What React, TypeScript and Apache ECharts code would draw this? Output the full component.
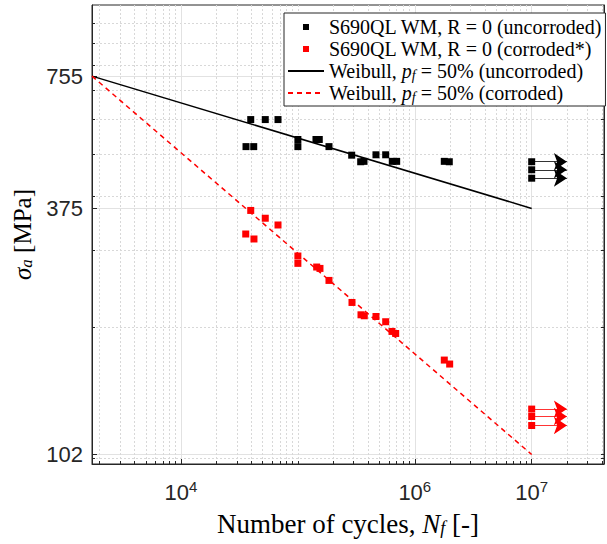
import React, { useEffect, useRef } from 'react';
import * as echarts from 'echarts';

// ---- axis limits and ticks ----
const X_MIN = 1733;
const X_MAX = 4.155e7;
const Y_MIN = 97;
const Y_MAX = 1100;
const X_TICKS = [1e4, 1e6, 1e7];
const Y_TICKS = [102, 375, 755];

// ---- S690QL WM, R = 0 (uncorroded) ----
const UNC_N = [39500, 52600, 67600, 36000, 41900, 100000, 100000, 142800, 152400, 184500, 288600, 344500, 367700, 465600, 563700, 642000, 700000, 1788000, 1973000, 1e7, 1e7, 1e7];
const UNC_S = [600, 600, 600, 520, 520, 540, 520, 540, 540, 520, 497, 480, 481, 498, 498, 481, 481, 481, 480, 480, 460, 440];

// ---- S690QL WM, R = 0 (corroded*) ----
const COR_N = [39500, 52600, 67600, 35800, 42100, 100000, 100000, 144800, 154500, 184500, 290300, 346600, 369800, 465600, 563700, 638400, 686500, 1788000, 1988000, 1e7, 1e7, 1e7];
const COR_S = [371, 356, 343.5, 327.5, 319, 291.5, 280.4, 275, 273, 256.2, 228, 213.6, 212.5, 211.7, 205.9, 195.6, 193.5, 168.1, 164.6, 129.7, 124.7, 118.9];

// ---- run-outs (arrows) ----
const RUNOUT_N = 1e7;
const RUNOUT_ARROW_END_N = 2e7;
const RUNOUT_UNC_S = [480, 460, 440];
const RUNOUT_COR_S = [129.7, 124.7, 118.9];

// ---- Weibull, p_f = 50% ----
const WEIBULL_N = [1733, 1e7];
const WEIBULL_UNC_S = [755, 375];
const WEIBULL_COR_S = [755, 102];

const NAMES = [
  'S690QL WM, R = 0 (uncorroded)',
  'S690QL WM, R = 0 (corroded*)',
  'Weibull, p_f = 50% (uncorroded)',
  'Weibull, p_f = 50% (corroded)',
];

const lg = (v: number) => Math.log10(v);

function minorList(lo: number, hi: number, exclude: number[]) {
  const out: number[] = [];
  for (let k = Math.floor(lg(lo)); k <= Math.ceil(lg(hi)); k++) {
    for (let m = 1; m <= 9; m++) {
      const v = m * Math.pow(10, k);
      if (v >= lo && v <= hi && !exclude.some((e) => Math.abs(e - v) / v < 1e-6)) out.push(lg(v));
    }
  }
  return out;
}

const SERIF = 'Liberation Serif';
const SANS = 'Liberation Sans';
const AXIS_COLOR = '#262626';
const SQ_ICON = 'path://M0,3L0.01,3M15,0L21,0L21,6L15,6ZM36,3L36.01,3';

function legendFormatter(name: string) {
  const parts = name.split('p_f');
  if (parts.length === 1) return `{t|${name}}`;
  return `{t|${parts[0]}}{i|p}{sub|f}{t|${parts[1]}}`;
}

function buildOption() {
  const xMin = lg(X_MIN), xMax = lg(X_MAX), yMin = lg(Y_MIN), yMax = lg(Y_MAX);
  const xMinor = minorList(X_MIN, X_MAX, X_TICKS);
  const yMinor = minorList(Y_MIN, Y_MAX, []);
  const yAll = yMinor.concat(Y_TICKS.map(lg));
  const lineStyle = { color: AXIS_COLOR, width: 1 };
  const majorSplit = { show: true, lineStyle: { color: '#e2e2e2', width: 1, type: 'solid' } };
  const minorSplit = { show: true, lineStyle: { color: '#d8d8d8', width: 1, type: [2, 2] } };

  const xBase = { type: 'value', min: xMin, max: xMax };
  const yBase = { type: 'value', min: yMin, max: yMax };

  const serifRich = (size: number, subSize: number) => ({
    n: { fontFamily: SERIF, fontSize: size, color: '#000' },
    i: { fontFamily: SERIF, fontSize: size, fontStyle: 'italic', color: '#000' },
    sub: { fontFamily: SERIF, fontSize: subSize, fontStyle: 'italic', color: '#000', verticalAlign: 'bottom', lineHeight: 12 },
  });

  const LFS = 20;

  return {
    animation: false,
    backgroundColor: '#fff',
    grid: {
      left: 92, right: 3, top: 5, bottom: 80, containLabel: false, outerBoundsMode: 'none',
      show: true, borderColor: AXIS_COLOR, borderWidth: 1, backgroundColor: 'transparent',
    },
    legend: {
      left: 284,
      top: 13,
      orient: 'vertical',
      itemWidth: 36,
      itemHeight: 8,
      itemGap: 0,
      padding: [3, 3, 2, 3],
      borderColor: AXIS_COLOR,
      borderWidth: 1,
      borderRadius: 0,
      backgroundColor: '#fff',
      selectedMode: false,
      itemStyle: { borderWidth: 0 },
      textStyle: {
        fontFamily: SERIF,
        fontSize: LFS,
        lineHeight: 22,
        color: '#000',
        rich: {
          t: { fontFamily: SERIF, fontSize: LFS, lineHeight: 22, color: '#000' },
          i: { fontFamily: SERIF, fontSize: LFS, fontStyle: 'italic', lineHeight: 22, color: '#000' },
          sub: { fontFamily: SERIF, fontSize: 14, fontStyle: 'italic', color: '#000', verticalAlign: 'bottom', lineHeight: 10 },
        },
      },
      formatter: legendFormatter,
      data: [
        { name: NAMES[0], icon: SQ_ICON },
        { name: NAMES[1], icon: SQ_ICON },
        { name: NAMES[2], itemStyle: { opacity: 0, color: 'transparent' } },
        { name: NAMES[3], itemStyle: { opacity: 0, color: 'transparent' } },
      ],
    },
    xAxis: [
      {
        ...xBase,
        position: 'bottom',
        axisLine: { show: true, onZero: false, lineStyle },
        axisTick: { show: true, inside: true, length: 5, customValues: X_TICKS.map(lg), lineStyle },
        axisLabel: {
          show: true,
          customValues: X_TICKS.map(lg),
          margin: 15,
          hideOverlap: false,
          formatter: (v: number) => `{b|10}{s|${Math.round(v)}}`,
          rich: {
            b: { fontFamily: SANS, fontSize: 22, color: AXIS_COLOR, lineHeight: 26 },
            s: { fontFamily: SANS, fontSize: 15, color: AXIS_COLOR, lineHeight: 14, verticalAlign: 'top' },
          },
        },
        splitLine: majorSplit,
        name: '{n|Number of cycles, }{i|N}{sub|f}{n| [-]}',
        nameLocation: 'middle',
        nameGap: 46,
        nameTextStyle: { fontFamily: SERIF, fontSize: 27, color: '#000', rich: serifRich(27, 18) },
      },
      {
        ...xBase,
        position: 'bottom',
        axisLine: { show: false },
        axisTick: { show: true, inside: true, length: 3, customValues: xMinor, lineStyle },
        axisLabel: { show: false },
        splitLine: minorSplit,
      },
    ],
    yAxis: [
      {
        ...yBase,
        position: 'left',
        axisLine: { show: true, onZero: false, lineStyle },
        axisTick: { show: true, inside: true, length: 5, customValues: Y_TICKS.map(lg), lineStyle },
        axisLabel: {
          show: true,
          customValues: Y_TICKS.map(lg),
          margin: 9,
          hideOverlap: false,
          fontFamily: SANS,
          fontSize: 22,
          color: AXIS_COLOR,
          formatter: (v: number) => String(Math.round(Math.pow(10, v))),
        },
        splitLine: majorSplit,
        name: '{i|σ}{sub|a}{n| [MPa]}',
        nameLocation: 'middle',
        nameRotate: 90,
        nameGap: 53,
        nameTextStyle: { fontFamily: SERIF, fontSize: 25, color: '#000', rich: serifRich(25, 17) },
      },
      {
        ...yBase,
        position: 'left',
        axisLine: { show: false },
        axisTick: { show: true, inside: true, length: 3, customValues: yMinor, lineStyle },
        axisLabel: { show: false },
        splitLine: minorSplit,
      },
      {
        ...yBase,
        position: 'right',
        axisLine: { show: true, onZero: false, lineStyle },
        axisTick: { show: true, inside: true, length: 3, customValues: yAll, lineStyle },
        axisLabel: { show: false },
        splitLine: { show: false },
      },
    ],
    series: [
      {
        name: NAMES[2],
        type: 'line',
        data: WEIBULL_N.map((n, i) => [lg(n), lg(WEIBULL_UNC_S[i])]),
        symbol: 'none',
        color: '#000',
        lineStyle: { color: '#000', width: 1.5 },
        z: 2,
      },
      {
        name: NAMES[3],
        type: 'line',
        data: WEIBULL_N.map((n, i) => [lg(n), lg(WEIBULL_COR_S[i])]),
        symbol: 'none',
        color: '#ff0000',
        lineStyle: { color: '#ff0000', width: 1.5, type: [5, 4] },
        z: 2,
      },
      {
        name: NAMES[0],
        type: 'scatter',
        data: UNC_N.map((n, i) => [lg(n), lg(UNC_S[i])]),
        symbol: 'rect',
        symbolSize: 7,
        itemStyle: { color: '#000', opacity: 1 },
        z: 3,
      },
      {
        name: NAMES[1],
        type: 'scatter',
        data: COR_N.map((n, i) => [lg(n), lg(COR_S[i])]),
        symbol: 'rect',
        symbolSize: 7,
        itemStyle: { color: '#ff0000', opacity: 1 },
        z: 3,
      },
      {
        name: 'runout-unc',
        type: 'lines',
        coordinateSystem: 'cartesian2d',
        data: RUNOUT_UNC_S.map((s) => ({ coords: [[lg(RUNOUT_N), lg(s)], [lg(RUNOUT_ARROW_END_N), lg(s)]] })),
        symbol: ['none', 'arrow'],
        symbolSize: 13,
        lineStyle: { color: '#000', width: 0.8, opacity: 1, curveness: 0 },
        silent: true,
        z: 2,
      },
      {
        name: 'runout-cor',
        type: 'lines',
        coordinateSystem: 'cartesian2d',
        data: RUNOUT_COR_S.map((s) => ({ coords: [[lg(RUNOUT_N), lg(s)], [lg(RUNOUT_ARROW_END_N), lg(s)]] })),
        symbol: ['none', 'arrow'],
        symbolSize: 13,
        lineStyle: { color: '#ff0000', width: 0.8, opacity: 1, curveness: 0 },
        silent: true,
        z: 2,
      },
    ],
  };
}

export default function App() {
  const ref = useRef<HTMLDivElement>(null);
  useEffect(() => {
    if (!ref.current) return;
    const chart = echarts.init(ref.current, undefined, { renderer: 'svg' });
    chart.setOption(buildOption() as any);
    return () => chart.dispose();
  }, []);
  return (
    <div
      ref={ref}
      style={{ position: 'absolute', left: 0, top: 0, width: 607, height: 544, background: '#fff' }}
    />
  );
}
